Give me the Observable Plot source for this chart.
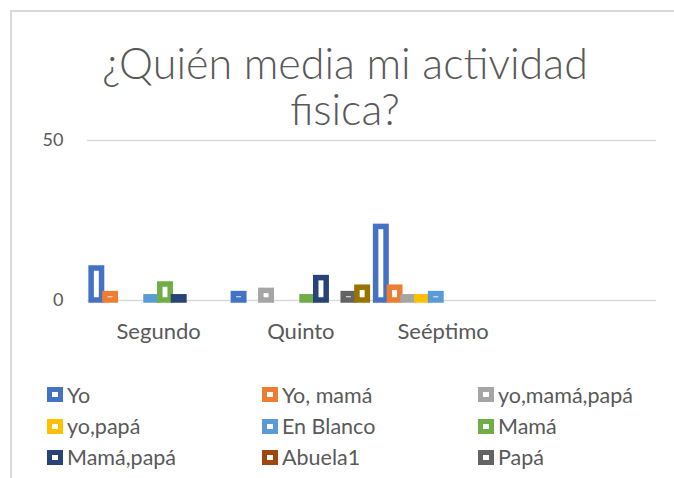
<!DOCTYPE html>
<html>
<head>
<meta charset="utf-8">
<script src="https://cdn.jsdelivr.net/npm/d3@7"></script>
<script src="https://cdn.jsdelivr.net/npm/@observablehq/plot@0.6"></script>
<style>
  html, body { margin: 0; padding: 0; background: #fff; }
  #wrap { position: relative; width: 674px; height: 478px; overflow: hidden; background: #fff; font-family: Lato, "Open Sans", sans-serif; color: #595959; }
  #frame { position: absolute; left: 10px; top: 10px; width: 700px; height: 500px; border-left: 2px solid #d9d9d9; border-top: 2px solid #d9d9d9; box-sizing: border-box; }
  #title { position: absolute; left: 10px; width: 670px; top: 40px; text-align: center; font-size: 43px; line-height: 46px; font-weight: 300; color: #595959; white-space: nowrap; }
  #chart { position: absolute; left: 0; top: 120px; }
  #legend { position: absolute; left: 0; top: 0; width: 674px; height: 478px; }
  .item { position: absolute; display: flex; align-items: center; font-size: 21.5px; color: #595959; height: 26px; white-space: nowrap; }
  .sw { width: 16px; height: 15px; box-sizing: border-box; border: 5px solid; background: #fff; margin-right: 4px; }
</style>
</head>
<body>
<div id="wrap">
  <div id="frame"></div>
  <div id="title">¿Quién media mi actividad<br>fisica?</div>
  <div id="chart"></div>
  <div id="legend"></div>
</div>
<script>
const categories = ["Segundo", "Quinto", "Seéptimo", " "];
const seriesNames = ["Yo", "Yo, mamá", "yo,mamá,papá", "yo,papá", "En Blanco", "Mamá", "Mamá,papá", "Abuela1", "Papá", "Serie10"];
const seriesColors = ["#4472C4", "#ED7D31", "#A5A5A5", "#FFC000", "#5B9BD5", "#70AD47", "#264478", "#9E480E", "#636363", "#997300"];
const legendNames = ["Yo", "Yo, mamá", "yo,mamá,papá", "yo,papá", "En Blanco", "Mamá", "Mamá,papá", "Abuela1", "Papá"];

const yo          = [10, 2, 23, 0];
const yoMama      = [2, 0, 4, 0];
const yoMamaPapa  = [0, 3, 1, 0];
const yoPapa      = [0, 0, 1, 0];
const enBlanco    = [1, 0, 2, 0];
const mama        = [5, 1, 0, 0];
const mamaPapa    = [1, 7, 0, 0];
const abuela1     = [0, 0, 0, 0];
const papa        = [0, 2, 0, 0];
const serie10     = [0, 4, 0, 0];
const yTicks = [0, 50];

const seriesValues = [yo, yoMama, yoMamaPapa, yoPapa, enBlanco, mama, mamaPapa, abuela1, papa, serie10];

const rows = [];
seriesNames.forEach((s, i) => {
  categories.forEach((c, j) => {
    const v = seriesValues[i][j];
    if (v > 0) rows.push({category: c, series: s, value: v});
  });
});
const gridRows = categories.flatMap(c => yTicks.map(t => ({category: c, y: t})));

const chart = Plot.plot({
  width: 674,
  height: 220,
  marginTop: 20,
  marginBottom: 40,
  marginLeft: 87,
  marginRight: 18,
  style: {fontFamily: "Lato, 'Open Sans', sans-serif", fontSize: "18px", color: "#595959", background: "transparent", overflow: "visible"},
  fx: {domain: categories, padding: 0, round: false, label: null},
  x: {domain: seriesNames, axis: null, paddingInner: 0.24, paddingOuter: 0.3, round: false},
  y: {domain: [0, 50], label: null},
  color: {domain: seriesNames, range: seriesColors},
  marks: [
    Plot.ruleY(gridRows, {fx: "category", y: "y", stroke: "#d9d9d9", strokeWidth: 1.5}),
    Plot.axisY({ticks: yTicks, tickSize: 0, tickPadding: 24, label: null, fontSize: 18}),
    Plot.axisFx({anchor: "bottom", tickSize: 0, tickPadding: 23, label: null, fontSize: 22}),
    Plot.barY(rows, {fx: "category", x: "series", y: "value", fill: "white", stroke: "series", strokeWidth: 5.5})
  ]
});
document.getElementById("chart").appendChild(chart);

const legend = document.getElementById("legend");
const colX = [47, 262, 478];
const rowY = [394.5, 426, 457];
legendNames.forEach((name, i) => {
  const idx = seriesNames.indexOf(name);
  const el = document.createElement("div");
  el.className = "item";
  el.style.left = colX[i % 3] + "px";
  el.style.top = (rowY[Math.floor(i / 3)] - 13) + "px";
  const sw = document.createElement("span");
  sw.className = "sw";
  sw.style.borderColor = seriesColors[idx];
  const tx = document.createElement("span");
  tx.textContent = name;
  el.appendChild(sw);
  el.appendChild(tx);
  legend.appendChild(el);
});
</script>
</body>
</html>
